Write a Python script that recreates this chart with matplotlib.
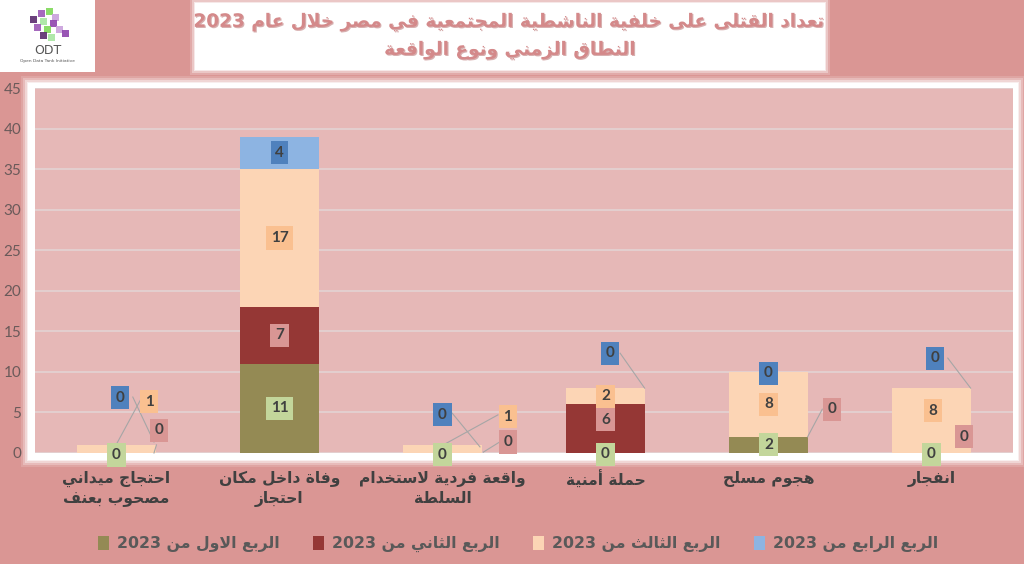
import re
import matplotlib
matplotlib.use("Agg")
import matplotlib.pyplot as plt
from matplotlib.patches import Rectangle, Patch
from matplotlib.font_manager import FontProperties
import matplotlib.patheffects as pe

# ---------------- data ----------------
categories = ["احتجاج ميداني\nمصحوب بعنف",
              "وفاة داخل مكان\nاحتجاز",
              "واقعة فردية لاستخدام\nالسلطة",
              "حملة أمنية",
              "هجوم مسلح",
              "انفجار"]
series_names = ["الربع الاول من 2023", "الربع الثاني من 2023",
                "الربع الثالث من 2023", "الربع الرابع من 2023"]
q1 = [0, 11, 0, 0, 2, 0]
q2 = [0, 7, 0, 6, 0, 0]
q3 = [1, 17, 1, 2, 8, 8]
q4 = [0, 4, 0, 0, 0, 0]
y_ticks = [0, 5, 10, 15, 20, 25, 30, 35, 40, 45]
title_lines = ["تعداد القتلى على خلفية الناشطية المجتمعية في مصر خلال عام 2023",
               "النطاق الزمني ونوع الواقعة"]

# ---------------- styles ----------------
bar_colors = ["#948A54", "#953735", "#FCD5B5", "#8DB4E2"]
label_box_colors = ["#C3D69B", "#D99694", "#FAC090", "#4F81BD"]
outer_bg = "#DA9694"
plot_bg = "#E6B8B7"
grid_col = "#E3D3D3"
text_dark = "#404040"

# label position overrides (category, series) -> (dx, y)
label_pos = {
    (0, 0): (0.0, -0.25), (0, 1): (0.26, 2.8), (0, 2): (0.20, 6.3), (0, 3): (0.02, 6.8),
    (2, 0): (0.0, -0.2), (2, 1): (0.40, 1.35), (2, 2): (0.40, 4.45), (2, 3): (0.0, 4.7),
    (3, 0): (0.0, -0.15), (3, 1): (0.0, 4.1), (3, 3): (0.03, 12.3),
    (4, 1): (0.39, 5.4), (4, 3): (0.0, 9.85),
    (5, 0): (0.0, -0.15), (5, 1): (0.20, 2.0), (5, 2): (0.01, 5.2), (5, 3): (0.02, 11.7),
}
leader_lines = {
    0: [((0.10, 6.9), (0.23, 1.35)), ((0.0, 1.1), (0.15, 6.65)), ((0.245, 1.0), (0.23, 0.0))],
    2: [((0.06, 4.9), (0.23, 0.75)), ((0.005, 1.0), (0.34, 4.7)), ((0.35, 1.35), (0.25, 0.1))],
    3: [((0.09, 12.3), (0.24, 8.0))],
    4: [((0.33, 5.4), (0.24, 2.0))],
    5: [((0.10, 11.7), (0.24, 8.0))],
}

# ---------------- Arabic shaping ----------------
FORMS = {}
for ch, base in [("\u0622", 0xFE81), ("\u0623", 0xFE83), ("\u0624", 0xFE85), ("\u0625", 0xFE87),
                 ("\u0627", 0xFE8D), ("\u0629", 0xFE93), ("\u062F", 0xFEA9), ("\u0630", 0xFEAB),
                 ("\u0631", 0xFEAD), ("\u0632", 0xFEAF), ("\u0648", 0xFEED), ("\u0649", 0xFEEF)]:
    FORMS[ch] = (base, base + 1, None, None)
for ch, base in [("\u0626", 0xFE89), ("\u0628", 0xFE8F), ("\u062A", 0xFE95), ("\u062B", 0xFE99),
                 ("\u062C", 0xFE9D), ("\u062D", 0xFEA1), ("\u062E", 0xFEA5), ("\u0633", 0xFEB1),
                 ("\u0634", 0xFEB5), ("\u0635", 0xFEB9), ("\u0636", 0xFEBD), ("\u0637", 0xFEC1),
                 ("\u0638", 0xFEC5), ("\u0639", 0xFEC9), ("\u063A", 0xFECD), ("\u0641", 0xFED1),
                 ("\u0642", 0xFED5), ("\u0643", 0xFED9), ("\u0644", 0xFEDD), ("\u0645", 0xFEE1),
                 ("\u0646", 0xFEE5), ("\u0647", 0xFEE9), ("\u064A", 0xFEF1)]:
    FORMS[ch] = (base, base + 1, base + 2, base + 3)
LAMALEF = {"\u0627": (0xFEFB, 0xFEFC), "\u0623": (0xFEF7, 0xFEF8),
           "\u0625": (0xFEF9, 0xFEFA), "\u0622": (0xFEF5, 0xFEF6)}


def shape_line(s):
    items = []
    i = 0
    while i < len(s):
        c = s[i]
        if c == "\u0644" and i + 1 < len(s) and s[i + 1] in LAMALEF:
            items.append(("LA", LAMALEF[s[i + 1]]))
            i += 2
        else:
            items.append((c, None))
            i += 1
    out = []
    for k, (c, lig) in enumerate(items):
        prev = items[k - 1] if k > 0 else None
        nxt = items[k + 1] if k + 1 < len(items) else None
        joins_prev = prev is not None and prev[0] in FORMS and FORMS[prev[0]][2] is not None
        if lig is not None:
            out.append(chr(lig[1] if joins_prev else lig[0]))
            continue
        if c not in FORMS:
            out.append(c)
            continue
        f = FORMS[c]
        joins_next = f[2] is not None and nxt is not None and (nxt[1] is not None or nxt[0] in FORMS)
        if joins_prev and joins_next:
            out.append(chr(f[3]))
        elif joins_prev:
            out.append(chr(f[1]))
        elif joins_next:
            out.append(chr(f[2]))
        else:
            out.append(chr(f[0]))
    vis = "".join(out)[::-1]
    vis = re.sub(r"[0-9]+", lambda m: m.group(0)[::-1], vis)
    return vis


def ar(s):
    return "\n".join(shape_line(l) for l in s.split("\n"))


# ---------------- figure ----------------
W, H = 1024, 564
fig = plt.figure(figsize=(W / 100, H / 100), dpi=100)
fig.patch.set_facecolor(outer_bg)


def px_rect(x0, y0, x1, y1, **kw):
    r = Rectangle((x0 / W, 1 - y1 / H), (x1 - x0) / W, (y1 - y0) / H,
                  transform=fig.transFigure, **kw)
    fig.add_artist(r)
    return r


# glowing white frame behind the plot area
for g, a in [(7, 0.15), (5, 0.25), (3, 0.4), (1, 0.6)]:
    px_rect(28 - g, 83 - g, 1018 + g, 460 + g, facecolor="white", edgecolor="none", alpha=a, zorder=-3)
px_rect(28, 83, 1018, 460, facecolor="white", edgecolor="none", zorder=-2)

# title box
for g, a in [(5, 0.2), (3, 0.35), (1, 0.6)]:
    px_rect(195 - g, 3 - g, 825 + g, 70 + g, facecolor="white", edgecolor="none", alpha=a, zorder=-3)
px_rect(195, 3, 825, 70, facecolor="white", edgecolor="none", zorder=-2)

# logo box
px_rect(0, 0, 95, 72, facecolor="white", edgecolor="none", zorder=-2)

ax = fig.add_axes([35 / W, 1 - 453 / H, 978 / W, 365 / H])
ax.set_facecolor(plot_bg)
for s in ax.spines.values():
    s.set_visible(False)

x = list(range(len(categories)))
series = [q1, q2, q3, q4]
bottoms = [0] * len(categories)
bw = 0.48
seg_bottoms = []
for si, vals in enumerate(series):
    ax.bar(x, vals, bw, bottom=bottoms, color=bar_colors[si], edgecolor="none", zorder=2)
    seg_bottoms.append(list(bottoms))
    bottoms = [b + v for b, v in zip(bottoms, vals)]

ax.set_xlim(-0.5, len(categories) - 0.5)
ax.set_ylim(0, 45)
ax.set_yticks(y_ticks)
ax.yaxis.grid(True, color=grid_col, linewidth=1.2, zorder=0)
ax.set_axisbelow(True)
ax.tick_params(axis="y", length=0, pad=10, labelcolor="#6A5A5A", labelsize=11)
for t in ax.get_yticklabels():
    t.set_fontfamily("Lato")

ax.set_xticks(x)
ax.set_xticklabels([ar(c) for c in categories], fontfamily="DejaVu Sans",
                   fontweight="bold", fontsize=11.2, color=text_dark, linespacing=1.35)
ax.tick_params(axis="x", length=0, pad=13)

# leader lines
for ci, lines in leader_lines.items():
    for (dx1, y1), (dx2, y2) in lines:
        ax.plot([ci + dx1, ci + dx2], [y1, y2], color="#A6A6A6", linewidth=0.8, zorder=3,
                clip_on=False)

# data labels
for si, vals in enumerate(series):
    for ci, v in enumerate(vals):
        if (ci, si) in label_pos:
            dx, yy = label_pos[(ci, si)]
        else:
            dx, yy = 0.0, seg_bottoms[si][ci] + v / 2
        ax.text(ci + dx, yy, str(v), ha="center", va="center", fontsize=11,
                fontfamily="Lato", fontweight="bold", color=text_dark, zorder=5,
                clip_on=False,
                bbox=dict(boxstyle="square,pad=0.3", facecolor=label_box_colors[si],
                          edgecolor="none"))

# title
tp = dict(ha="center", va="center", fontfamily="DejaVu Sans", fontweight="bold",
          fontsize=13.3, color="#D4898A", transform=fig.transFigure,
          path_effects=[pe.withSimplePatchShadow(offset=(0.8, -0.8), shadow_rgbFace="#B06060", alpha=0.5)])
fig.text(510 / W, 1 - 22 / H, ar(title_lines[0]), **tp)
fig.text(510 / W, 1 - 50 / H, ar(title_lines[1]), **tp)

# logo (simple cubes + text)
cube_cols = ["#9B59B6", "#7ED957", "#C9A0DC", "#5B2C6F", "#A8E6A1", "#8E44AD"]
cube_px = [(38, 10), (46, 8), (52, 14), (30, 16), (40, 18), (50, 20), (34, 24), (44, 26),
           (56, 26), (40, 32), (48, 34), (62, 30)]
for k, (cx, cy) in enumerate(cube_px):
    px_rect(cx, cy, cx + 7, cy + 7, facecolor=cube_cols[k % len(cube_cols)], edgecolor="none",
            zorder=-1, alpha=0.9)
fig.text(48 / W, 1 - 50 / H, "ODT", ha="center", va="center", fontsize=9,
         fontfamily="DejaVu Sans", color="#555555")
fig.text(48 / W, 1 - 61 / H, "Open Data Tank Initiative", ha="center", va="center",
         fontsize=3.2, fontfamily="DejaVu Sans", color="#555555")

# legend
handles = [Patch(facecolor=bar_colors[i], edgecolor="none") for i in range(4)]
leg = fig.legend(handles, [ar(s) for s in series_names], loc="center",
                 bbox_to_anchor=(518 / W, 1 - 544 / H), ncol=4, frameon=False,
                 prop=FontProperties(family="DejaVu Sans", weight="bold", size=11.3),
                 handlelength=0.7, handleheight=1.0, handletextpad=0.5, columnspacing=2.15,
                 labelcolor="#595959")

fig.savefig("out.png", dpi=100, facecolor=outer_bg)
